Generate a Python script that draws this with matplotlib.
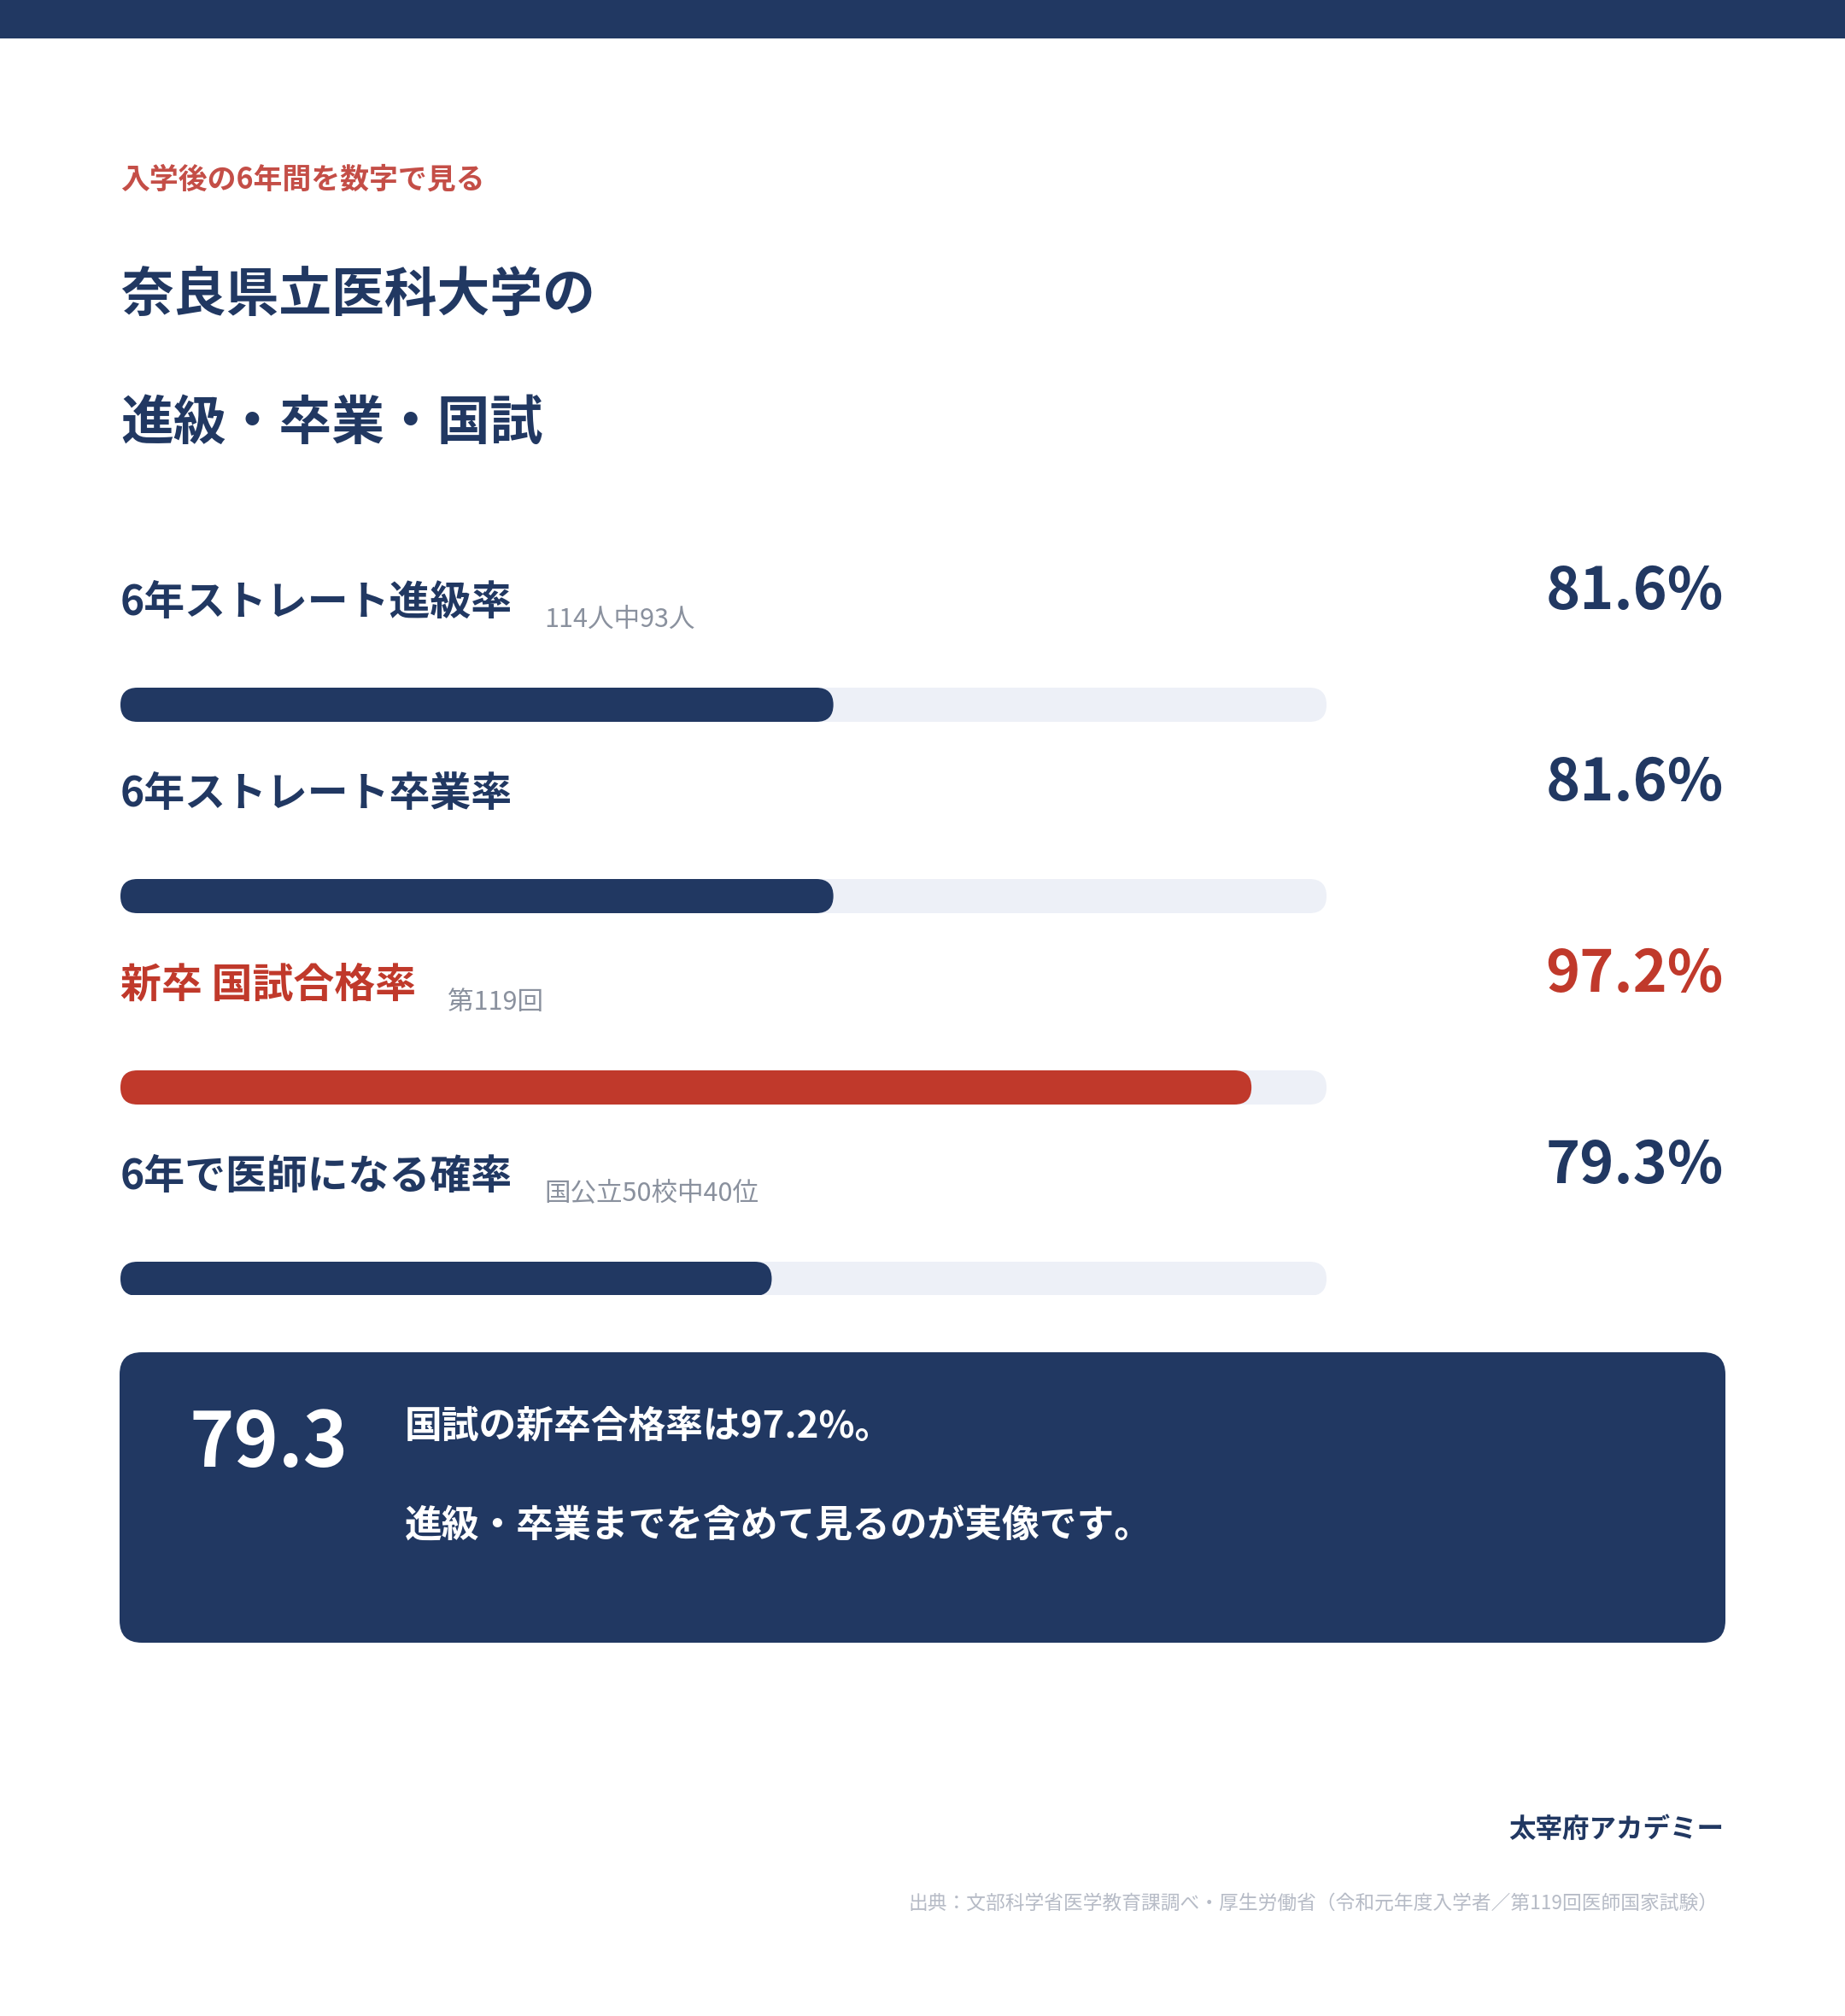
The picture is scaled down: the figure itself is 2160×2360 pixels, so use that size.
import matplotlib
matplotlib.use('Agg')
import matplotlib.pyplot as plt
from matplotlib.patches import Rectangle, FancyBboxPatch

plt.rcParams['font.family'] = ['Noto Sans CJK JP', 'DejaVu Sans']

# --- data ---
kicker = '入学後の6年間を数字で見る'
title_lines = ['奈良県立医科大学の', '進級・卒業・国試']
labels = ['6年ストレート進級率', '6年ストレート卒業率', '新卒 国試合格率', '6年で医師になる確率']
notes = ['114人中93人', '', '第119回', '国公立50校中40位']
values = [81.6, 81.6, 97.2, 79.3]
highlight = [False, False, True, False]
scale_min, scale_max = 55, 100
box_number = '79.3'
box_lines = ['国試の新卒合格率は97.2%。', '進級・卒業までを含めて見るのが実像です。']
brand = '太宰府アカデミー'
source = '出典：文部科学省医学教育課調べ・厚生労働省（令和元年度入学者／第119回医師国家試験）'

# --- style ---
NAVY = '#213862'
RED = '#c0392b'
KICKER_RED = '#c44e47'
TRACK = '#edf0f7'
NOTE_GRAY = '#8a919e'
SRC_GRAY = '#b6bbc6'

W, H = 2160, 2360
fig = plt.figure(figsize=(W / 100, H / 100), dpi=100)
fig.patch.set_facecolor('white')

# page axes in pixel units for the layout
page = fig.add_axes([0, 0, 1, 1])
page.set_xlim(0, W)
page.set_ylim(H, 0)
page.axis('off')

page.add_patch(Rectangle((0, 0), W, 45, color=NAVY, lw=0))

left = 141
page.text(left, 221, kicker, fontsize=24.4, fontweight='bold', color=KICKER_RED, va='baseline')
page.text(left, 364, title_lines[0], fontsize=44.5, fontweight='bold', color=NAVY, va='baseline')
page.text(left, 514, title_lines[1], fontsize=44.5, fontweight='bold', color=NAVY, va='baseline')

# rows
pitch = 224
renderer = fig.canvas.get_renderer()
for i, (lab, note, v, hl) in enumerate(zip(labels, notes, values, highlight)):
    c = RED if hl else NAVY
    yb = 720 + pitch * i
    t = page.text(left, yb, lab, fontsize=34.5, fontweight='bold', color=c, va='baseline')
    if note:
        bb = t.get_window_extent(renderer)
        page.text(bb.x1 + 37, yb + 14, note, fontsize=22, color=NOTE_GRAY, va='baseline')
    page.text(2018, 713 + pitch * i, f'{v:.1f}%', fontsize=49, fontweight='bold',
              color=c, va='baseline', ha='right')

# bars
track_x0, track_x1 = 141, 1553
top_px, bot_px = 805, 1516
ax = fig.add_axes([track_x0 / W, 1 - bot_px / H, (track_x1 - track_x0) / W, (bot_px - top_px) / H])
ax.set_xlim(scale_min, scale_max)
bar_h_px = 40
c0 = 825
ax.set_ylim(3 + (bot_px - (c0 + 3 * pitch)) / pitch, -(c0 - top_px) / pitch)
ax.axis('off')
px_per_x = (track_x1 - track_x0) / (scale_max - scale_min)
h = bar_h_px / pitch
rx = (bar_h_px / 2) / px_per_x
ma = (h / 2) / rx
for i, (v, hl) in enumerate(zip(values, highlight)):
    ax.add_patch(FancyBboxPatch((scale_min, i - h / 2), scale_max - scale_min, h,
                                boxstyle=f'round,pad=0,rounding_size={rx}',
                                mutation_aspect=ma, fc=TRACK, ec='none'))
    ax.add_patch(FancyBboxPatch((scale_min, i - h / 2), v - scale_min, h,
                                boxstyle=f'round,pad=0,rounding_size={rx}',
                                mutation_aspect=ma, fc=RED if hl else NAVY, ec='none'))

# summary box
page.add_patch(FancyBboxPatch((140, 1583), 1880, 340, boxstyle='round,pad=0,rounding_size=26',
                              fc=NAVY, ec='none'))
page.text(221, 1717, box_number, fontsize=64, fontweight='bold', color='white', va='baseline')
page.text(474, 1683, box_lines[0], fontsize=31.5, fontweight='bold', color='white', va='baseline')
page.text(474, 1799, box_lines[1], fontsize=31.5, fontweight='bold', color='white', va='baseline')

page.text(2018, 2151, brand, fontsize=22.7, fontweight='bold', color=NAVY, va='baseline', ha='right')
page.text(2011, 2235, source, fontsize=16.35, color=SRC_GRAY, va='baseline', ha='right')

fig.savefig('out.png', dpi=100, facecolor='white')
